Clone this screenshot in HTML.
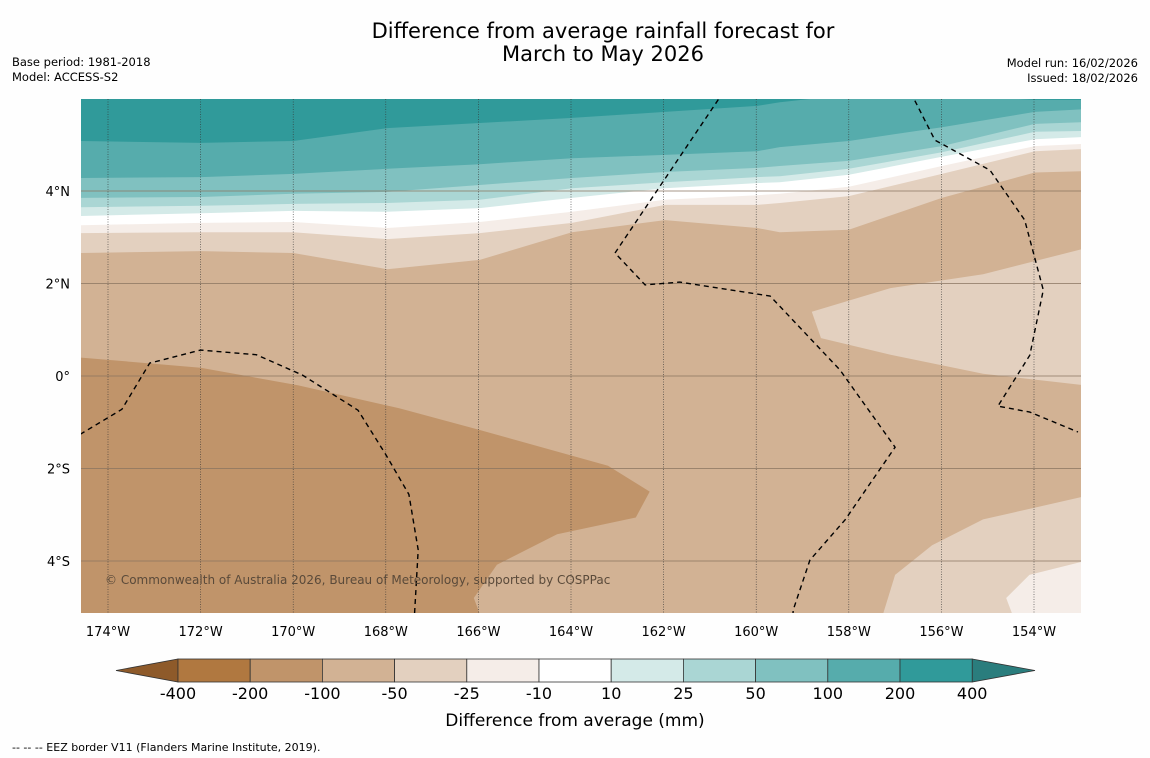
<!DOCTYPE html>
<html><head><meta charset="utf-8"><style>
html,body{margin:0;padding:0;background:#fefefe;}
body{width:1150px;height:758px;overflow:hidden;font-family:"DejaVu Sans","Liberation Sans",sans-serif;}
svg{display:block}
</style></head><body>
<svg id="chart" width="1150" height="758" xmlns="http://www.w3.org/2000/svg">
<rect width="1150" height="758" fill="#fefefe"/>
<text x="603" y="38" text-anchor="middle" font-size="21" fill="#000">Difference from average rainfall forecast for</text>
<text x="603" y="61" text-anchor="middle" font-size="21" fill="#000">March to May 2026</text>
<text x="12" y="66" font-size="11.5">Base period: 1981-2018</text>
<text x="12" y="81" font-size="11.5">Model: ACCESS-S2</text>
<text x="1138" y="67" font-size="11.5" text-anchor="end">Model run: 16/02/2026</text>
<text x="1138" y="82" font-size="11.5" text-anchor="end">Issued: 18/02/2026</text>
<defs><clipPath id="mapclip"><rect x="81" y="99" width="1000" height="514"/></clipPath></defs>
<g id="map" clip-path="url(#mapclip)"></g>
<g id="axes"></g>
<g id="cbar"></g>
<text x="575" y="726" text-anchor="middle" font-size="17">Difference from average (mm)</text>
<text x="12" y="751" font-size="11">--  --  -- EEZ border V11 (Flanders Marine Institute, 2019).</text>
</svg>
<script>
const NS="http://www.w3.org/2000/svg";
const levels=[-400,-200,-100,-50,-25,-10,10,25,50,100,200,400];
const levelColors=["#b07840","#c0946a","#d2b294","#e3d0bf","#f5ede8","#ffffff","#d4eae8","#aad6d4","#80c1c0","#56acac","#309a9a"];
const lonTicks=[-174,-172,-170,-168,-166,-164,-162,-160,-158,-156,-154];
const latTicks=[4,2,0,-2,-4];
const bandLons=[-174.58,-171.99,-170.0,-167.97,-165.97,-163.98,-161.97,-159.98,-159.49,-158.0,-155.99,-153.98,-152.9];
const b100=[5.08,5.04,5.08,5.36,5.47,5.58,5.71,5.84,5.92,6.08,6.08,5.97,5.97];
const b50=[4.28,4.30,4.37,4.48,4.58,4.71,4.78,4.86,4.95,5.08,5.38,5.71,5.77];
const b25=[3.85,3.87,3.94,3.98,4.13,4.28,4.41,4.50,4.54,4.65,4.97,5.45,5.49];
const b10=[3.65,3.68,3.72,3.74,3.81,4.06,4.19,4.30,4.32,4.48,4.84,5.28,5.30];
const b0=[3.46,3.52,3.57,3.55,3.63,3.85,4.06,4.17,4.19,4.35,4.74,5.12,5.17];
const bm10=[3.26,3.31,3.33,3.20,3.33,3.55,3.81,3.91,3.94,4.09,4.54,4.97,5.02];
const bm25=[3.09,3.11,3.11,2.96,3.09,3.31,3.70,3.70,3.74,3.89,4.37,4.86,4.91];
const bm50=[2.66,2.70,2.66,2.31,2.51,3.11,3.37,3.20,3.11,3.16,3.85,4.40,4.43];
const patchA=[[-152.9,2.76],[-155.1,2.2],[-157.1,1.9],[-158.8,1.39],[-158.6,0.82],[-157.1,0.46],[-155.1,0.05],[-152.9,-0.2]];
const patchB=[[-152.9,-2.6],[-155.1,-3.1],[-156.2,-3.66],[-157.0,-4.3],[-157.4,-5.6],[-152.9,-5.6]];
const patchC=[[-152.9,-4.0],[-154.1,-4.3],[-154.6,-4.8],[-154.3,-5.6],[-152.9,-5.6]];
const patchD=[[-174.6,0.4],[-172,0.18],[-169.9,-0.2],[-167.7,-0.7],[-166,-1.16],[-163.2,-1.94],[-162.3,-2.5],[-162.6,-3.06],[-164.3,-3.42],[-165.6,-4.08],[-166.1,-4.8],[-165.8,-5.6],[-174.6,-5.6]];
const eez1=[[-174.6,-1.26],[-173.7,-0.72],[-173.1,0.28],[-172,0.56],[-170.8,0.46],[-169.8,0.02],[-168.6,-0.74],[-168,-1.7],[-167.5,-2.56],[-167.3,-3.76],[-167.4,-5.5]];
const eez2=[[-160.6,6.3],[-163.05,2.66],[-162.4,1.97],[-161.65,2.03],[-159.7,1.73],[-158.19,0.13],[-157.0,-1.54],[-158.08,-3.11],[-158.84,-3.98],[-159.2,-5.06],[-159.22,-5.4]];
const eez3=[[-156.75,6.3],[-156.14,5.1],[-154.95,4.45],[-154.2,3.37],[-153.8,1.86],[-154.09,0.45],[-154.78,-0.65],[-154.09,-0.78],[-153.05,-1.21]];
const X=lon=>108+(lon+174)*46.3;
const Y=lat=>376-lat*46.25;
const map=document.getElementById('map');
function poly(pts,fill,name){const p=document.createElementNS(NS,'polygon');p.setAttribute('points',pts.map(q=>X(q[0]).toFixed(1)+','+Y(q[1]).toFixed(1)).join(' '));p.setAttribute('fill',fill);


map.appendChild(p);}
poly([[-175,8],[-152,8],[-152,-6],[-175,-6]],levelColors[10],'band-200-400');
const curves=[[b100,9],[b50,8],[b25,7],[b10,6],[b0,5],[bm10,4],[bm25,3],[bm50,2]];
curves.forEach(([c,ci])=>{const pts=bandLons.map((l,i)=>[l,c[i]]);pts.push([-152.5,c[c.length-1]],[-152.5,-6],[-175,-6],[-175,c[0]]);poly(pts,levelColors[ci],'band-'+levels[ci]+'-'+levels[ci+1]);});
poly(patchA,levelColors[3],'patch-east-light');
poly(patchB,levelColors[3],'patch-southeast-light');
poly(patchC,levelColors[4],'patch-southeast-lighter');
poly(patchD,levelColors[1],'patch-southwest-dry');
const axes=document.getElementById('axes');
latTicks.forEach(l=>{const ln=document.createElementNS(NS,'line');ln.setAttribute('x1',81);ln.setAttribute('x2',1081);ln.setAttribute('y1',Y(l));ln.setAttribute('y2',Y(l));ln.setAttribute('stroke','#8a7460');ln.setAttribute('stroke-width','0.8');


map.appendChild(ln);
const t=document.createElementNS(NS,'text');t.setAttribute('x',70);t.setAttribute('y',Y(l)+5);t.setAttribute('text-anchor','end');t.setAttribute('font-size','13');t.textContent=l===0?'0°':Math.abs(l)+'°'+(l>0?'N':'S');


axes.appendChild(t);});
lonTicks.forEach(l=>{const ln=document.createElementNS(NS,'line');ln.setAttribute('x1',X(l));ln.setAttribute('x2',X(l));ln.setAttribute('y1',99);ln.setAttribute('y2',613);ln.setAttribute('stroke','#333');ln.setAttribute('stroke-width','0.6');ln.setAttribute('stroke-dasharray','1,1.5');


map.appendChild(ln);
const t=document.createElementNS(NS,'text');t.setAttribute('x',X(l));t.setAttribute('y',636);t.setAttribute('text-anchor','middle');t.setAttribute('font-size','13');t.textContent=Math.abs(l)+'°W';


axes.appendChild(t);});
[eez1,eez2,eez3].forEach(e=>{const p=document.createElementNS(NS,'polyline');p.setAttribute('points',e.map(q=>X(q[0]).toFixed(1)+','+Y(q[1]).toFixed(1)).join(' '));p.setAttribute('fill','none');p.setAttribute('stroke','#000');p.setAttribute('stroke-width','1.4');p.setAttribute('stroke-dasharray','5,4');


map.appendChild(p);});
const cp=document.createElementNS(NS,'text');cp.setAttribute('x',105);cp.setAttribute('y',584);cp.setAttribute('font-size','12');cp.setAttribute('fill','#5a4a3a');cp.textContent='© Commonwealth of Australia 2026, Bureau of Meteorology, supported by COSPPac';


map.appendChild(cp);
const cb=document.getElementById('cbar');
const cx0=178,cw=72.2,cy=659,ch=23;
const lt=document.createElementNS(NS,'polygon');lt.setAttribute('points',`116,${cy+ch/2} ${cx0},${cy} ${cx0},${cy+ch}`);lt.setAttribute('fill','#8e5a2a');lt.setAttribute('stroke','#333');lt.setAttribute('stroke-width','0.8');


cb.appendChild(lt);
const rx=cx0+cw*levelColors.length;
const rt=document.createElementNS(NS,'polygon');rt.setAttribute('points',`${rx},${cy} 1035,${cy+ch/2} ${rx},${cy+ch}`);rt.setAttribute('fill','#2a7d7d');rt.setAttribute('stroke','#333');rt.setAttribute('stroke-width','0.8');


cb.appendChild(rt);
levelColors.forEach((c,i)=>{const r=document.createElementNS(NS,'rect');r.setAttribute('x',cx0+i*cw);r.setAttribute('y',cy);r.setAttribute('width',cw);r.setAttribute('height',ch);r.setAttribute('fill',c);r.setAttribute('stroke','#333');r.setAttribute('stroke-width','0.8');


cb.appendChild(r);});
levels.forEach((v,i)=>{const t=document.createElementNS(NS,'text');t.setAttribute('x',cx0+i*cw);t.setAttribute('y',699);t.setAttribute('text-anchor','middle');t.setAttribute('font-size','16');t.textContent=v;


cb.appendChild(t);});
</script>
</body></html>
